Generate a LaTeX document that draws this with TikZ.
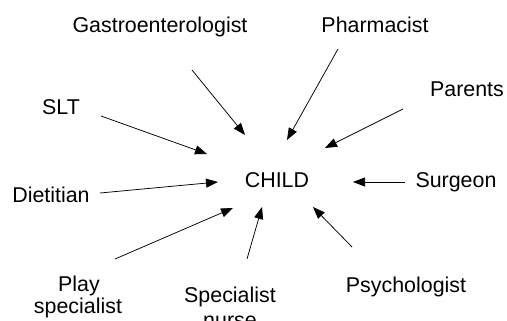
\documentclass[tikz,border=0pt]{standalone}
\usepackage{fontspec}
\setmainfont{Liberation Sans}
\usetikzlibrary{arrows.meta}
\begin{document}
\begin{tikzpicture}[x=1pt,y=-1pt,
  lbl/.style={anchor=base,inner sep=0pt,font=\fontsize{21.4}{25}\selectfont},
  arr/.style={line width=0.75pt,-{Triangle[length=12pt,width=9pt]}}]
\useasboundingbox (0,0) rectangle (507,321);
\clip (0,0) rectangle (507,321);
\node[lbl] (gastro) at (160,33) {Gastroenterologist};
\node[lbl] (pharm) at (375,33) {Pharmacist};
\node[lbl] (parents) at (467,97) {Parents};
\node[lbl] (slt) at (61,115) {SLT};
\node[lbl] (child) at (277,187) {CHILD};
\node[lbl] (surgeon) at (456,188) {Surgeon};
\node[lbl] (diet) at (51,203) {Dietitian};
\node[lbl] (play) at (79,291) {Play};
\node[lbl] (plays) at (78,313) {specialist};
\node[lbl] (spec) at (230,302) {Specialist};
\node[lbl] (nurse) at (230,327) {nurse};
\node[lbl] (psych) at (406,292) {Psychologist};
% arrow endpoints
\coordinate (g1) at (192,70);  \coordinate (g2) at (245,135);
\coordinate (p1) at (338,49);  \coordinate (p2) at (287,140);
\coordinate (pa1) at (403,109); \coordinate (pa2) at (325,148);
\coordinate (s1) at (101,116); \coordinate (s2) at (207,154);
\coordinate (d1) at (100,193); \coordinate (d2) at (218,182);
\coordinate (su1) at (405,182); \coordinate (su2) at (353,182);
\coordinate (pl1) at (115,259); \coordinate (pl2) at (233,208);
\coordinate (n1) at (247,259); \coordinate (n2) at (262,207);
\coordinate (ps1) at (352,247); \coordinate (ps2) at (313,207);
\draw[arr] (g1) -- (g2);
\draw[arr] (p1) -- (p2);
\draw[arr] (pa1) -- (pa2);
\draw[arr] (s1) -- (s2);
\draw[arr] (d1) -- (d2);
\draw[arr] (su1) -- (su2);
\draw[arr] (pl1) -- (pl2);
\draw[arr] (n1) -- (n2);
\draw[arr] (ps1) -- (ps2);
\end{tikzpicture}
\end{document}
